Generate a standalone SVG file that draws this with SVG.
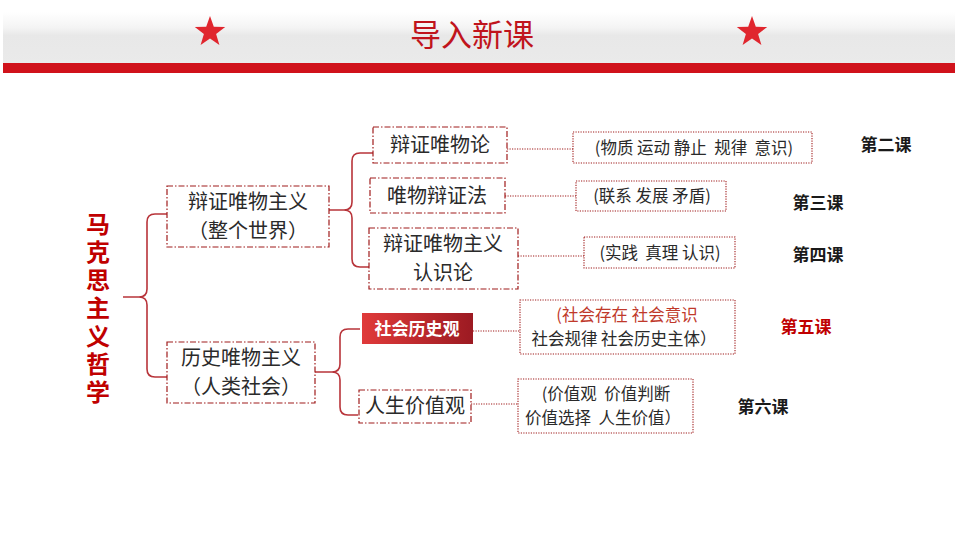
<svg xmlns="http://www.w3.org/2000/svg" width="960" height="540" viewBox="0 0 960 540">
<defs>
<linearGradient id="hdr" x1="0" y1="0" x2="0" y2="1">
<stop offset="0" stop-color="#ffffff"/>
<stop offset="0.3" stop-color="#f4f4f4"/>
<stop offset="0.45" stop-color="#e8e8e8"/>
<stop offset="1" stop-color="#eaeaea"/>
</linearGradient>
<linearGradient id="redfill" x1="0" y1="0" x2="1" y2="0">
<stop offset="0" stop-color="#e03a3a"/>
<stop offset="1" stop-color="#9c1a22"/>
</linearGradient>
<polygon id="star" points="0,-16 3.8,-5.2 15.2,-4.9 6.1,2 9.4,12.9 0,6.4 -9.4,12.9 -6.1,2 -15.2,-4.9 -3.8,-5.2"/>
</defs>
<style>
.box{fill:#ffffff;stroke:#a01c1c;stroke-width:1.2;stroke-dasharray:6 2 1.5 2}
.dbox{fill:#ffffff;stroke:#a01c1c;stroke-width:1.1;stroke-dasharray:1.2 1.3}
.brace{fill:none;stroke:#b8343a;stroke-width:1.6}
.dline{fill:none;stroke:#a01c1c;stroke-width:1.1;stroke-dasharray:1.2 1.3}
.t{font-family:"Noto Sans CJK SC","Noto Sans",sans-serif;fill:#2a2a2a;text-anchor:middle;white-space:pre}
.big{font-size:20px}
.sm{font-size:16.5px}
.lesson{font-family:"Noto Sans CJK SC","Noto Sans",sans-serif;font-size:17px;font-weight:bold;fill:#1a1a1a;text-anchor:middle}
</style>
<rect x="0" y="0" width="960" height="540" fill="#ffffff"/>
<g id="header">
<rect x="3" y="12" width="952" height="52" fill="url(#hdr)"/>
<rect x="3" y="63" width="952" height="10" fill="#d0121b"/>
<use href="#star" x="210" y="32" fill="#e0262e"/>
<use href="#star" x="752" y="32" fill="#e0262e"/>
<text x="472" y="46" font-family="'Noto Sans CJK SC',sans-serif" font-size="31" fill="#c0141c" text-anchor="middle">导入新课</text>
</g>
<g id="connectors">
<path class="brace" d="M167,214 L155,214 Q147,214 147,222 L147,289 Q147,297 139,297 L123,297 M139,297 Q147,297 147,305 L147,369 Q147,377 155,377 L167,377"/>
<path class="brace" d="M373,153 L360,153 Q352,153 352,161 L352,202 Q352,210 344,210 L329,210 M344,210 Q352,210 352,218 L352,259 Q352,267 360,267 L369,267"/>
<path class="brace" d="M360,329 L348,329 Q340,329 340,337 L340,364 Q340,372 332,372 L315,372 M332,372 Q340,372 340,380 L340,407 Q340,415 348,415 L358,415"/>
<path class="dline" d="M507,149 L573,149"/>
<path class="dline" d="M505,196 L576,196"/>
<path class="dline" d="M518,256 L584,256"/>
<path class="dline" d="M473,331 L520,331"/>
<path class="dline" d="M471,404 L518,404"/>
</g>
<g id="root">
<text x="98" y="212" writing-mode="vertical-rl" font-family="'Noto Sans CJK SC',sans-serif" font-size="24" font-weight="bold" fill="#c00000" style="letter-spacing:4px">马克思主义哲学</text>
</g>
<g id="node-dialectical">
<rect class="box" x="167" y="186" width="162" height="61"/>
<text class="t big" x="248" y="209">辩证唯物主义</text>
<text class="t big" x="248" y="238">（整个世界）</text>
</g>
<g id="node-historical">
<rect class="box" x="167" y="342" width="148" height="61"/>
<text class="t big" x="241" y="365">历史唯物主义</text>
<text class="t big" x="241" y="394">（人类社会）</text>
</g>
<g id="node-materialism">
<rect class="box" x="373" y="127" width="134" height="36"/>
<text class="t big" x="440" y="152">辩证唯物论</text>
</g>
<g id="node-dialectics">
<rect class="box" x="370" y="178" width="135" height="35"/>
<text class="t big" x="437" y="203">唯物辩证法</text>
</g>
<g id="node-epistemology">
<rect class="box" x="369" y="228" width="149" height="61"/>
<text class="t big" x="443" y="251">辩证唯物主义</text>
<text class="t big" x="443" y="280">认识论</text>
</g>
<g id="node-social-history">
<rect x="362" y="313" width="111" height="31" fill="url(#redfill)"/>
<text x="417" y="335" font-family="'Noto Sans CJK SC',sans-serif" font-size="17" font-weight="bold" fill="#ffffff" text-anchor="middle">社会历史观</text>
</g>
<g id="node-values">
<rect class="box" x="359" y="390" width="112" height="33"/>
<text class="t big" x="415" y="413">人生价值观</text>
</g>
<g id="detail-2">
<rect class="dbox" x="573" y="132" width="239" height="31"/>
<text class="t sm" x="694" y="154">(物质 运动 静止  规律  意识)</text>
</g>
<g id="detail-3">
<rect class="dbox" x="576" y="181" width="150" height="30"/>
<text class="t sm" x="652" y="202">(联系 发展 矛盾)</text>
</g>
<g id="detail-4">
<rect class="dbox" x="584" y="237" width="151" height="31"/>
<text class="t sm" x="660" y="259">(实践  真理 认识)</text>
</g>
<g id="detail-5">
<rect class="dbox" x="520" y="300" width="215" height="54"/>
<text class="t sm" x="627" y="321" style="fill:#c0392b">(社会存在 社会意识</text>
<text class="t sm" x="624" y="345">社会规律 社会历史主体）</text>
</g>
<g id="detail-6">
<rect class="dbox" x="518" y="379" width="175" height="54"/>
<text class="t sm" x="606" y="400">(价值观  价值判断</text>
<text class="t sm" x="603" y="424">价值选择  人生价值）</text>
</g>
<g id="lessons">
<text class="lesson" x="886" y="151">第二课</text>
<text class="lesson" x="818" y="209">第三课</text>
<text class="lesson" x="818" y="261">第四课</text>
<text class="lesson" x="806" y="333" style="fill:#c00000">第五课</text>
<text class="lesson" x="763" y="413">第六课</text>
</g>
</svg>
